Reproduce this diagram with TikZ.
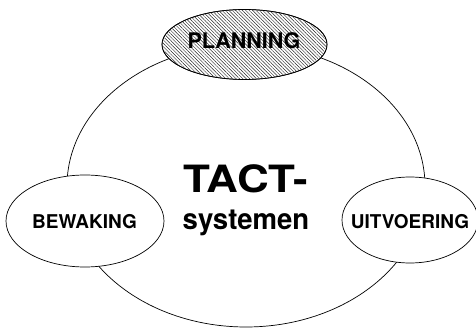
\documentclass[tikz,border=0pt]{standalone}
\usepackage{fontspec}
\setmainfont{TeX Gyre Heros}
\usetikzlibrary{patterns.meta,shapes.geometric}
\begin{document}
\begin{tikzpicture}[x=1pt,y=-1pt,line width=0.7pt,
  bubble/.style={draw,ellipse,inner sep=0pt,fill=white},
  lbl/.style={font=\bfseries\fontsize{19}{21}\selectfont,inner sep=0pt}]
\useasboundingbox (0,0) rectangle (476,328);
% cycle
\node[draw,ellipse,inner sep=0pt,minimum width=358pt,minimum height=282pt] (cycle) at (246,186) {};
% phases
\node[bubble,minimum width=165pt,minimum height=70pt] (plan) at (244.5,44.5) {};
\fill[pattern={Lines[angle=-45,distance=2.4pt,line width=0.45pt]},pattern color=black!85] (244.5,44.5) ellipse [x radius=81.5pt, y radius=34.5pt];
\draw (244.5,44.5) ellipse [x radius=82.5pt, y radius=35pt];
\node[bubble,minimum width=158pt,minimum height=92pt] (bew) at (85,221) {};
\node[bubble,minimum width=136pt,minimum height=86pt] (uit) at (410,220) {};
% labels
\node[lbl,font=\bfseries\fontsize{21.5}{24}\selectfont] (tplan) at (244,40.5) {PLANNING};
\node[lbl] (tbew) at (84.5,221.5) {BEWAKING};
\node[lbl] (tuit) at (410,221.5) {UITVOERING};
\node[inner sep=0pt,font=\bfseries\fontsize{37.6}{40}\selectfont,xscale=1.17] (tact) at (246,178.5) {TACT-};
\node[inner sep=0pt,anchor=base,font=\bfseries\fontsize{29}{32}\selectfont,xscale=0.95] (sys) at (246,230) {systemen};
\end{tikzpicture}
\end{document}
